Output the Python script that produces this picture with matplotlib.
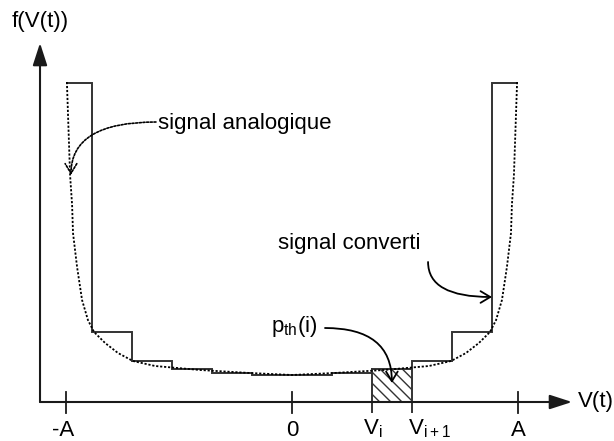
import numpy as np
import matplotlib
matplotlib.use("Agg")
import matplotlib.pyplot as plt

plt.rcParams['font.family'] = ['Liberation Sans', 'DejaVu Sans']
plt.rcParams['hatch.linewidth'] = 1.0

# ---- data (V in units of A, density in arbitrary units) ----
bin_edges = [-1.0, -0.885, -0.708, -0.531, -0.354, -0.177, 0.0,
             0.177, 0.354, 0.531, 0.708, 0.885, 1.0]
bin_heights = [3.19, 0.70, 0.41, 0.33, 0.29, 0.27,
               0.27, 0.29, 0.33, 0.41, 0.70, 3.19]

# analog pdf, left half (mirrored for the right half)
curve_v = [-0.996, -0.982, -0.973, -0.969, -0.951, -0.929, -0.903, -0.876,
           -0.827, -0.770, -0.704, -0.606, -0.407, -0.186, 0.0]
curve_f = [3.20, 2.27, 1.97, 1.69, 1.35, 1.02, 0.82, 0.70,
           0.59, 0.49, 0.41, 0.36, 0.32, 0.29, 0.27]

hatched_bin = 8          # index of bin p_th(i)
tick_pos = [-1.0, 0.0, 1.0]
tick_labels = ['-A', '0', 'A']

# ---- figure ----
fig = plt.figure(figsize=(6.14, 4.41), dpi=100)
ax = fig.add_axes([0, 0, 1, 1])
ax.set_xlim(-292 / 226, (614 - 292) / 226)
ax.set_ylim(-0.39, 4.02)
ax.axis('off')

axis_col = '#1a1a1a'
line_col = '#333333'

# axes with arrows
arr = dict(arrowstyle='-|>,head_length=0.68,head_width=0.22', mutation_scale=20,
           lw=1.5, color=axis_col, shrinkA=0, shrinkB=0)
ax.annotate('', xy=(1.239, 0), xytext=(-1.115, 0), arrowprops=arr)
ax.annotate('', xy=(-1.115, 3.59), xytext=(-1.115, 0), arrowprops=arr)

ax.text(-1.239, 3.80, 'f(V(t))', fontsize=16, ha='left', va='center')
ax.text(1.265, 0.0, 'V(t)', fontsize=16, ha='left', va='center')

# ticks
for xv in tick_pos:
    ax.plot([xv, xv], [-0.11, 0.10], color=axis_col, lw=1.3)
ax.text(-1.013, -0.335, tick_labels[0], fontsize=16, ha='center', va='baseline')
ax.text(0.0, -0.335, tick_labels[1], fontsize=16, ha='center', va='baseline')
ax.text(1.0, -0.335, tick_labels[2], fontsize=16, ha='center', va='baseline')

# quantized histogram
ax.stairs(bin_heights, bin_edges, baseline=None, color=line_col, lw=1.4)

# hatched bin p_th(i)
x0 = bin_edges[hatched_bin]
x1 = bin_edges[hatched_bin + 1]
h = bin_heights[hatched_bin]
ax.bar(x0, h, width=x1 - x0, align='edge', fill=False, hatch='\\\\\\',
       edgecolor=line_col, lw=0)
ax.plot([x0, x0], [-0.10, h], color=line_col, lw=1.4)
ax.plot([x1, x1], [-0.10, h], color=line_col, lw=1.4)
ax.text(x0 - 0.04, -0.32, r'$\mathregular{V_i}$', fontsize=16, ha='left', va='baseline')
ax.text(x1 - 0.018, -0.32, r'$\mathregular{V_{i+1}}$', fontsize=16, ha='left', va='baseline')

# analog signal pdf
v_full = np.concatenate([curve_v, -np.array(curve_v[::-1][1:])])
f_full = np.concatenate([curve_f, curve_f[::-1][1:]])
ax.plot(v_full, f_full, color='black', lw=1.3, ls=(0, (1.2, 1.0)))

# annotations
ax.text(-0.593, 2.73, 'signal analogique', fontsize=16, ha='left', va='baseline')
ax.annotate('', xy=(-0.978, 2.27), xytext=(-0.602, 2.80),
            arrowprops=dict(arrowstyle='->,head_length=0.5,head_width=0.3',
                            mutation_scale=14, lw=1.2, ls=(0, (1.2, 1.0)),
                            color='black', shrinkA=0, shrinkB=0,
                            connectionstyle='angle3,angleA=0,angleB=90'))

ax.text(-0.062, 1.53, 'signal converti', fontsize=16, ha='left', va='baseline')
ax.annotate('', xy=(0.885, 1.05), xytext=(0.602, 1.40),
            arrowprops=dict(arrowstyle='->,head_length=0.5,head_width=0.3',
                            mutation_scale=14, lw=1.3, color='black',
                            shrinkA=0, shrinkB=0,
                            connectionstyle='angle3,angleA=90,angleB=0'))

ax.text(-0.093, 0.70, r'$\mathregular{p_{th}(i)}$', fontsize=16, ha='left', va='baseline')
ax.annotate('', xy=(0.442, 0.19), xytext=(0.146, 0.74),
            arrowprops=dict(arrowstyle='->,head_length=0.5,head_width=0.3',
                            mutation_scale=14, lw=1.3, color='black',
                            shrinkA=0, shrinkB=0,
                            connectionstyle='angle3,angleA=0,angleB=90'))

fig.savefig('out.png', dpi=100)
